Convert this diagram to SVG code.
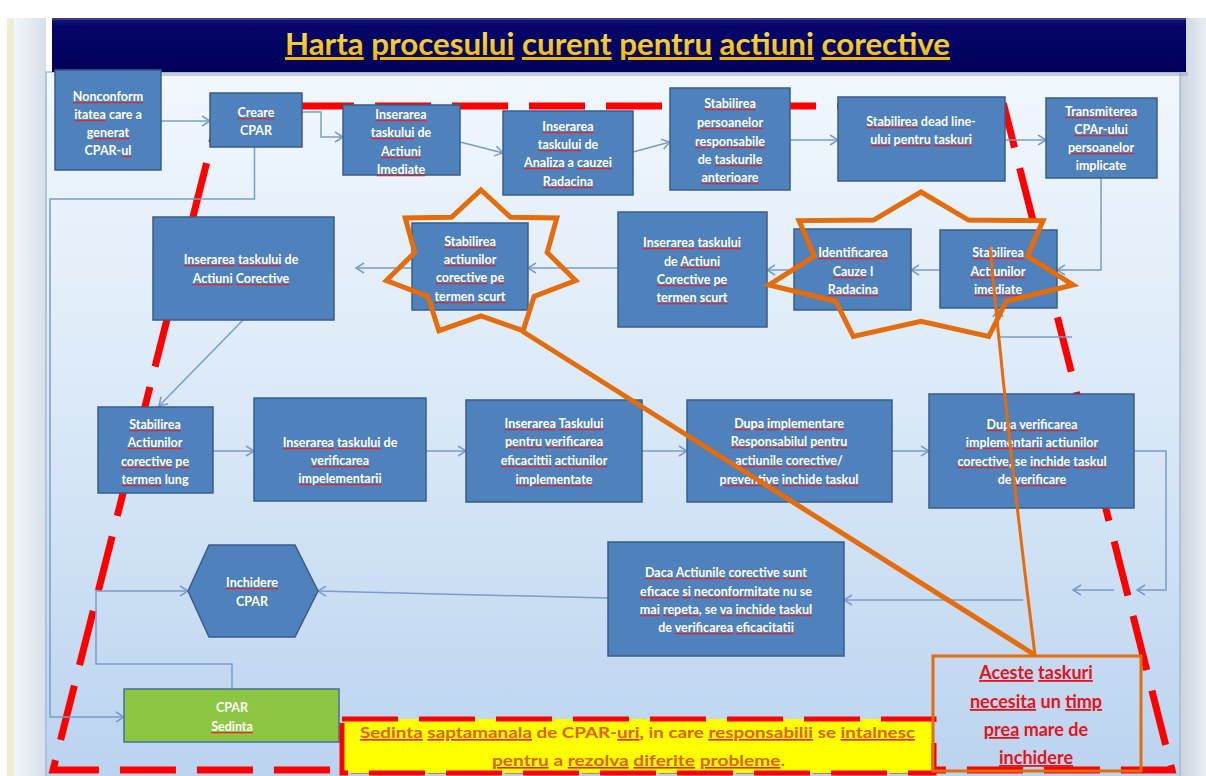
<svg xmlns="http://www.w3.org/2000/svg" width="1206" height="776" viewBox="0 0 1206 776">
<defs>
<linearGradient id="bg" x1="0" y1="0" x2="0" y2="1">
<stop offset="0" stop-color="#f1f7fd"/>
<stop offset="0.5" stop-color="#d9e8f7"/>
<stop offset="1" stop-color="#bad3ef"/>
</linearGradient>
<linearGradient id="tb" x1="0" y1="0" x2="0" y2="1">
<stop offset="0" stop-color="#1a1a7a"/>
<stop offset="0.15" stop-color="#06066a"/>
<stop offset="1" stop-color="#00005a"/>
</linearGradient>
<linearGradient id="tt" x1="0" y1="0" x2="0" y2="1">
<stop offset="0" stop-color="#ffe45a"/>
<stop offset="1" stop-color="#e9b400"/>
</linearGradient>
<linearGradient id="lstrip" x1="0" y1="0" x2="1" y2="0">
<stop offset="0" stop-color="#f3f6fa"/>
<stop offset="1" stop-color="#d6dfea"/>
</linearGradient>
<linearGradient id="rstrip" x1="0" y1="0" x2="1" y2="0">
<stop offset="0" stop-color="#c9d3df"/>
<stop offset="1" stop-color="#e8edf3"/>
</linearGradient>
<marker id="ah" markerWidth="12" markerHeight="12" viewBox="-10 -6 12 12" refX="0" refY="0" orient="auto" markerUnits="userSpaceOnUse">
<path d="M-8,-5 L0,0 L-8,5" fill="none" stroke="#7a9cc8" stroke-width="1.5"/>
</marker>
<mask id="sqm" maskUnits="userSpaceOnUse" x="0" y="0" width="1206" height="776">
<g fill="#fff">
<rect x="280" y="60" width="675" height="6"/>
<rect x="55" y="101.5" width="106" height="4"/><rect x="55" y="119.5" width="106" height="4"/><rect x="55" y="137.5" width="106" height="4"/><rect x="55" y="155.5" width="106" height="4"/>
<rect x="210" y="117.5" width="92" height="4"/>
<rect x="343" y="119.5" width="117" height="4"/><rect x="343" y="137.5" width="117" height="4"/><rect x="343" y="156.5" width="117" height="4"/><rect x="343" y="174.5" width="117" height="4"/>
<rect x="503" y="131.5" width="130" height="4"/><rect x="503" y="149.5" width="130" height="4"/><rect x="503" y="167.5" width="130" height="4"/><rect x="503" y="186.5" width="130" height="4"/>
<rect x="670" y="108.5" width="120" height="4"/><rect x="670" y="127.5" width="120" height="4"/><rect x="670" y="146.5" width="120" height="4"/><rect x="670" y="164.5" width="120" height="4"/><rect x="670" y="182.5" width="120" height="4"/>
<rect x="838" y="126.5" width="167" height="4"/><rect x="838" y="144.5" width="167" height="4"/>
<rect x="1046" y="116.5" width="111" height="4"/><rect x="1046" y="134.5" width="111" height="4"/><rect x="1046" y="152.5" width="111" height="4"/>
<rect x="153" y="264.5" width="181" height="4"/><rect x="153" y="283.5" width="181" height="4"/>
<rect x="412" y="246.5" width="116" height="4"/><rect x="412" y="264.5" width="116" height="4"/><rect x="412" y="282.5" width="116" height="4"/><rect x="412" y="301.5" width="116" height="4"/>
<rect x="618" y="247.5" width="149" height="4"/><rect x="618" y="266.5" width="149" height="4"/><rect x="618" y="284.5" width="149" height="4"/><rect x="618" y="302.5" width="149" height="4"/>
<rect x="794" y="257.5" width="117" height="4"/><rect x="794" y="276.5" width="117" height="4"/><rect x="794" y="294.5" width="117" height="4"/>
<rect x="940" y="257.5" width="117" height="4"/><rect x="940" y="276.5" width="117" height="4"/><rect x="940" y="294.5" width="117" height="4"/>
<rect x="98" y="429.5" width="115" height="4"/><rect x="98" y="447.5" width="115" height="4"/><rect x="98" y="466.5" width="115" height="4"/><rect x="98" y="484.5" width="115" height="4"/>
<rect x="254" y="447.5" width="172" height="4"/><rect x="254" y="465.5" width="172" height="4"/><rect x="254" y="483.5" width="172" height="4"/>
<rect x="466" y="428.5" width="176" height="4"/><rect x="466" y="446.5" width="176" height="4"/><rect x="466" y="465.5" width="176" height="4"/><rect x="466" y="484.5" width="176" height="4"/>
<rect x="687" y="428.5" width="205" height="4"/><rect x="687" y="446.5" width="205" height="4"/><rect x="687" y="465.5" width="205" height="4"/><rect x="687" y="484.5" width="205" height="4"/>
<rect x="929" y="429.5" width="205" height="4"/><rect x="929" y="447.5" width="205" height="4"/><rect x="929" y="466.5" width="205" height="4"/><rect x="929" y="484.5" width="205" height="4"/>
<rect x="608" y="577.5" width="236" height="4"/><rect x="608" y="596.5" width="236" height="4"/><rect x="608" y="614.5" width="236" height="4"/><rect x="608" y="632.5" width="236" height="4"/>
<rect x="188" y="587.5" width="130" height="4"/>
<rect x="124" y="731.5" width="215" height="4"/>
<rect x="342" y="738.5" width="592" height="5"/><rect x="342" y="766.5" width="592" height="5"/>
</g>
</mask>
<style>
.box{fill:#4f81bd;stroke:#385d8a;stroke-width:1.5}
.t{font-family:Lato,"Liberation Sans",sans-serif;font-weight:700;font-size:12.5px;text-anchor:middle}
.sq{text-decoration-line:var(--ul,none);text-decoration-thickness:1.5px}
.ul{--ul:underline;fill:#e2262a;mask:url(#sqm)}
.sqt{text-decoration:underline}
.cn{fill:none;stroke:#7a9cc8;stroke-width:1.5;marker-end:url(#ah)}
.star{fill:none;stroke:#e46c0a;stroke-width:5;stroke-linejoin:miter}
.red{fill:none;stroke:#ff0000;stroke-width:7;stroke-dasharray:56 21}
.ac{font-family:Lato,"Liberation Sans",sans-serif;font-weight:700;font-size:18px;fill:#e8121a;text-anchor:middle;--ul:underline}
.ye{font-family:Lato,"Liberation Sans",sans-serif;font-weight:700;font-size:16px}
</style>
</defs>

<g id="background">
<rect x="0" y="0" width="1206" height="776" fill="#ffffff"/>
<rect x="7" y="18" width="7" height="758" fill="#efebd4"/>
<rect x="14" y="18" width="32" height="758" fill="url(#lstrip)"/>
<rect x="1180" y="18" width="26" height="758" fill="url(#rstrip)"/>
<rect x="46" y="72" width="1134" height="710" fill="url(#bg)" stroke="#a6b9cf" stroke-width="1.5"/>
</g>

<g id="title">
<rect x="54" y="72" width="1134" height="4" fill="#9aa3b8" opacity="0.5"/>
<rect x="52" y="18" width="1134" height="54" fill="url(#tb)"/>
<rect x="52" y="18" width="1134" height="2" fill="#3b3b95"/>
<use href="#ttl" class="ul" transform="translate(0,4)"/>
<g fill="url(#tt)">
<text id="ttl" x="285" y="55" textLength="665" lengthAdjust="spacingAndGlyphs" font-family="Lato, 'Liberation Sans', sans-serif" font-weight="700" font-size="30"><tspan class="sqt">Harta</tspan> <tspan class="sqt">procesului</tspan> <tspan class="sqt">curent</tspan> <tspan class="sqt">pentru</tspan> <tspan class="sqt">actiuni</tspan> <tspan class="sqt">corective</tspan></text>
</g>
</g>

<g id="outline">
<path class="red" d="M221,106 H1004 L1172,770 H53 Z"/>
</g>

<g id="connectors">
<path class="cn" d="M161,121 H210"/>
<path class="cn" d="M302,112 H321 V137 H343"/>
<path class="cn" d="M460,142 L503,153"/>
<path class="cn" d="M633,152 L670,142"/>
<path class="cn" d="M790,140 H838"/>
<path class="cn" d="M1005,140 H1046"/>
<path class="cn" d="M1101,178 V270 H1057"/>
<path class="cn" d="M940,270 H911"/>
<path class="cn" d="M794,270 H767"/>
<path class="cn" d="M618,268 H528"/>
<path class="cn" d="M412,268 H356"/>
<path class="cn" d="M1072,337 H998 V309"/>
<path class="cn" d="M243,320 L159,406"/>
<path class="cn" d="M213,451 H254"/>
<path class="cn" d="M426,451 H466"/>
<path class="cn" d="M642,451 H687"/>
<path class="cn" d="M892,451 H929"/>
<path class="cn" d="M1134,451 H1166 V590 H1137"/>
<path class="cn" d="M1114,590 H1073"/>
<path class="cn" d="M1023,600 H844"/>
<path class="cn" d="M608,598 L318,591"/>
<path class="cn" d="M232,689 V664 H96 V591 H188"/>
<path class="cn" d="M254.5,147 V199 H50 V717 H124"/>
</g>

<g id="n1" fill="#fff">
<rect class="box" x="55" y="70" width="106" height="100"/>
<use href="#x1" class="ul"/>
<text id="x1" class="t"><tspan x="108" y="101" class="sq">Nonconform</tspan><tspan x="108" y="119"><tspan class="sq">itatea</tspan> care a</tspan><tspan x="108" y="137" class="sq">generat</tspan><tspan x="108" y="155">CPAR-<tspan class="sq">ul</tspan></tspan></text>
</g>
<g id="n2" fill="#fff">
<rect class="box" x="210" y="93" width="92" height="54"/>
<use href="#x2" class="ul"/>
<text id="x2" class="t"><tspan x="256" y="117" class="sq">Creare</tspan><tspan x="256" y="135">CPAR</tspan></text>
</g>
<g id="n3" fill="#fff">
<rect class="box" x="343" y="105" width="117" height="70"/>
<use href="#x3" class="ul"/>
<text id="x3" class="t"><tspan x="401" y="119" class="sq">Inserarea</tspan><tspan x="401" y="137"><tspan class="sq">taskului</tspan> de</tspan><tspan x="401" y="156" class="sq">Actiuni</tspan><tspan x="401" y="174" class="sq">Imediate</tspan></text>
</g>
<g id="n4" fill="#fff">
<rect class="box" x="503" y="111" width="130" height="84"/>
<use href="#x4" class="ul"/>
<text id="x4" class="t"><tspan x="568" y="131" class="sq">Inserarea</tspan><tspan x="568" y="149"><tspan class="sq">taskului</tspan> de</tspan><tspan x="568" y="167"><tspan class="sq">Analiza</tspan> a <tspan class="sq">cauzei</tspan></tspan><tspan x="568" y="186" class="sq">Radacina</tspan></text>
</g>
<g id="n5" fill="#fff">
<rect class="box" x="670" y="88" width="120" height="102"/>
<use href="#x5" class="ul"/>
<text id="x5" class="t"><tspan x="730" y="108" class="sq">Stabilirea</tspan><tspan x="730" y="127" class="sq">persoanelor</tspan><tspan x="730" y="146" class="sq">responsabile</tspan><tspan x="730" y="164">de <tspan class="sq">taskurile</tspan></tspan><tspan x="730" y="182" class="sq">anterioare</tspan></text>
</g>
<g id="n6" fill="#fff">
<rect class="box" x="838" y="97" width="167" height="84"/>
<use href="#x6" class="ul"/>
<text id="x6" class="t"><tspan x="921" y="126"><tspan class="sq">Stabilirea</tspan> dead line-</tspan><tspan x="921" y="144"><tspan class="sq">ului</tspan> <tspan class="sq">pentru</tspan> <tspan class="sq">taskuri</tspan></tspan></text>
</g>
<g id="n7" fill="#fff">
<rect class="box" x="1046" y="98" width="111" height="80"/>
<use href="#x7" class="ul"/>
<text id="x7" class="t"><tspan x="1101" y="116" class="sq">Transmiterea</tspan><tspan x="1101" y="134" class="sq">CPAr-ului</tspan><tspan x="1101" y="152" class="sq">persoanelor</tspan><tspan x="1101" y="170">implicate</tspan></text>
</g>

<g id="n8" fill="#fff">
<rect class="box" x="153" y="217" width="181" height="103"/>
<use href="#x8" class="ul"/>
<text id="x8" class="t"><tspan x="241" y="264"><tspan class="sq">Inserarea</tspan> <tspan class="sq">taskului</tspan> de</tspan><tspan x="241" y="283"><tspan class="sq">Actiuni</tspan> <tspan class="sq">Corective</tspan></tspan></text>
</g>
<g id="n9" fill="#fff">
<rect class="box" x="412" y="223" width="116" height="87"/>
<use href="#x9" class="ul"/>
<text id="x9" class="t"><tspan x="470" y="246" class="sq">Stabilirea</tspan><tspan x="470" y="264" class="sq">actiunilor</tspan><tspan x="470" y="282"><tspan class="sq">corective</tspan> <tspan class="sq">pe</tspan></tspan><tspan x="470" y="301"><tspan class="sq">termen</tspan> <tspan class="sq">scurt</tspan></tspan></text>
</g>
<g id="n10" fill="#fff">
<rect class="box" x="618" y="212" width="149" height="115"/>
<use href="#x10" class="ul"/>
<text id="x10" class="t"><tspan x="692" y="247"><tspan class="sq">Inserarea</tspan> <tspan class="sq">taskului</tspan></tspan><tspan x="692" y="266">de <tspan class="sq">Actiuni</tspan></tspan><tspan x="692" y="284"><tspan class="sq">Corective</tspan> <tspan class="sq">pe</tspan></tspan><tspan x="692" y="302"><tspan class="sq">termen</tspan> <tspan class="sq">scurt</tspan></tspan></text>
</g>
<g id="n11" fill="#fff">
<rect class="box" x="794" y="229" width="117" height="81"/>
<use href="#x11" class="ul"/>
<text id="x11" class="t"><tspan x="853" y="257" class="sq">Identificarea</tspan><tspan x="853" y="276"><tspan class="sq">Cauze</tspan> I</tspan><tspan x="853" y="294" class="sq">Radacina</tspan></text>
</g>
<g id="n12" fill="#fff">
<rect class="box" x="940" y="230" width="117" height="78"/>
<use href="#x12" class="ul"/>
<text id="x12" class="t"><tspan x="998" y="257" class="sq">Stabilirea</tspan><tspan x="998" y="276" class="sq">Actiunilor</tspan><tspan x="998" y="294" class="sq">imediate</tspan></text>
</g>

<g id="n13" fill="#fff">
<rect class="box" x="98" y="407" width="115" height="86"/>
<use href="#x13" class="ul"/>
<text id="x13" class="t"><tspan x="155" y="429" class="sq">Stabilirea</tspan><tspan x="155" y="447" class="sq">Actiunilor</tspan><tspan x="155" y="466"><tspan class="sq">corective</tspan> <tspan class="sq">pe</tspan></tspan><tspan x="155" y="484"><tspan class="sq">termen</tspan> lung</tspan></text>
</g>
<g id="n14" fill="#fff">
<rect class="box" x="254" y="398" width="172" height="103"/>
<use href="#x14" class="ul"/>
<text id="x14" class="t"><tspan x="340" y="447"><tspan class="sq">Inserarea</tspan> <tspan class="sq">taskului</tspan> de</tspan><tspan x="340" y="465" class="sq">verificarea</tspan><tspan x="340" y="483" class="sq">impelementarii</tspan></text>
</g>
<g id="n15" fill="#fff">
<rect class="box" x="466" y="400" width="176" height="102"/>
<use href="#x15" class="ul"/>
<text id="x15" class="t"><tspan x="554" y="428"><tspan class="sq">Inserarea</tspan> <tspan class="sq">Taskului</tspan></tspan><tspan x="554" y="446"><tspan class="sq">pentru</tspan> <tspan class="sq">verificarea</tspan></tspan><tspan x="554" y="465"><tspan class="sq">eficacittii</tspan> <tspan class="sq">actiunilor</tspan></tspan><tspan x="554" y="484" class="sq">implementate</tspan></text>
</g>
<g id="n16" fill="#fff">
<rect class="box" x="687" y="400" width="205" height="102"/>
<use href="#x16" class="ul"/>
<text id="x16" class="t"><tspan x="789" y="428"><tspan class="sq">Dupa</tspan> <tspan class="sq">implementare</tspan></tspan><tspan x="789" y="446"><tspan class="sq">Responsabilul</tspan> <tspan class="sq">pentru</tspan></tspan><tspan x="789" y="465"><tspan class="sq">actiunile</tspan> <tspan class="sq">corective</tspan>/</tspan><tspan x="789" y="484"><tspan class="sq">preventive</tspan> <tspan class="sq">inchide</tspan> <tspan class="sq">taskul</tspan></tspan></text>
</g>
<g id="n17" fill="#fff">
<rect class="box" x="929" y="394" width="205" height="114"/>
<use href="#x17" class="ul"/>
<text id="x17" class="t"><tspan x="1032" y="429"><tspan class="sq">Dupa</tspan> <tspan class="sq">verificarea</tspan></tspan><tspan x="1032" y="447"><tspan class="sq">implementarii</tspan> <tspan class="sq">actiunilor</tspan></tspan><tspan x="1032" y="466"><tspan class="sq">corective</tspan>, se <tspan class="sq">inchide</tspan> <tspan class="sq">taskul</tspan></tspan><tspan x="1032" y="484">de <tspan class="sq">verificare</tspan></tspan></text>
</g>

<g id="n18" fill="#fff">
<rect class="box" x="608" y="542" width="236" height="114"/>
<use href="#x18" class="ul"/>
<text id="x18" class="t"><tspan x="726" y="577"><tspan class="sq">Daca</tspan> <tspan class="sq">Actiunile</tspan> <tspan class="sq">corective</tspan> <tspan class="sq">sunt</tspan></tspan><tspan x="726" y="596"><tspan class="sq">eficace</tspan> <tspan class="sq">si</tspan> <tspan class="sq">neconformitate</tspan> nu se</tspan><tspan x="726" y="614"><tspan class="sq">mai</tspan> <tspan class="sq">repeta</tspan>, se <tspan class="sq">va</tspan> <tspan class="sq">inchide</tspan> <tspan class="sq">taskul</tspan></tspan><tspan x="726" y="632">de <tspan class="sq">verificarea</tspan> <tspan class="sq">eficacitatii</tspan></tspan></text>
</g>
<g id="n19" fill="#fff">
<polygon class="box" points="188,591 209,545 295,545 318,591 295,637 209,637"/>
<use href="#x19" class="ul"/>
<text id="x19" class="t"><tspan x="252" y="587" class="sq">Inchidere</tspan><tspan x="252" y="606">CPAR</tspan></text>
</g>
<g id="n20" fill="#fff">
<rect x="124" y="689" width="215" height="53" fill="#8dc641" stroke="#41719c" stroke-width="1.5"/>
<use href="#x20" class="ul"/>
<text id="x20" class="t"><tspan x="232" y="712">CPAR</tspan><tspan x="232" y="731" class="sq">Sedinta</tspan></text>
</g>

<g id="highlights">
<polygon class="star" points="481,190 510.5,217.3 556.8,217.9 547.2,252.5 575.6,280.5 534.1,296.3 523.1,330.7 481,315.8 438.9,330.7 427.9,296.3 386.4,280.5 414.8,252.5 405.2,217.9 451.5,217.3"/>
<polygon class="star" points="921,192 968.4,220.1 1043,220.6 1027.5,256.2 1073.1,284.9 1006.4,301.2 988.7,336.5 921,321.2 853.3,336.5 835.6,301.2 768.9,284.9 814.5,256.2 799,220.6 873.6,220.1"/>
<path d="M1035,655 L522,331" fill="none" stroke="#e46c0a" stroke-width="5"/>
<path d="M1035,655 Q1008,440 990,247" fill="none" stroke="#e46c0a" stroke-width="3"/>
</g>

<g id="meeting-note" fill="#e0600c">
<rect x="342" y="719" width="592" height="54" fill="#ffff00" stroke="#ff0000" stroke-width="5" stroke-dasharray="56 21"/>
<use href="#y1" class="ul"/>
<use href="#y2" class="ul"/>
<text id="y1" class="ye" x="360" y="738" textLength="555" lengthAdjust="spacingAndGlyphs"><tspan class="sq">Sedinta</tspan> <tspan class="sq">saptamanala</tspan> de CPAR-<tspan class="sq">uri</tspan>,  in care <tspan class="sq">responsabilii</tspan> se <tspan class="sq">intalnesc</tspan></text>
<text id="y2" class="ye" x="492" y="766" textLength="293" lengthAdjust="spacingAndGlyphs"><tspan class="sq">pentru</tspan> a <tspan class="sq">rezolva</tspan>  <tspan class="sq">diferite</tspan> <tspan class="sq">probleme</tspan>.</text>
</g>

<g id="callout">
<rect x="933" y="656" width="208" height="115" fill="none" stroke="#e46c0a" stroke-width="3"/>
<text class="ac"><tspan x="1036" y="679"><tspan class="sq">Aceste</tspan> <tspan class="sq">taskuri</tspan></tspan><tspan x="1036" y="708"><tspan class="sq">necesita</tspan> un <tspan class="sq">timp</tspan></tspan><tspan x="1036" y="736"><tspan class="sq">prea</tspan> mare de</tspan><tspan x="1036" y="764" class="sq">inchidere</tspan></text>
</g>
</svg>
